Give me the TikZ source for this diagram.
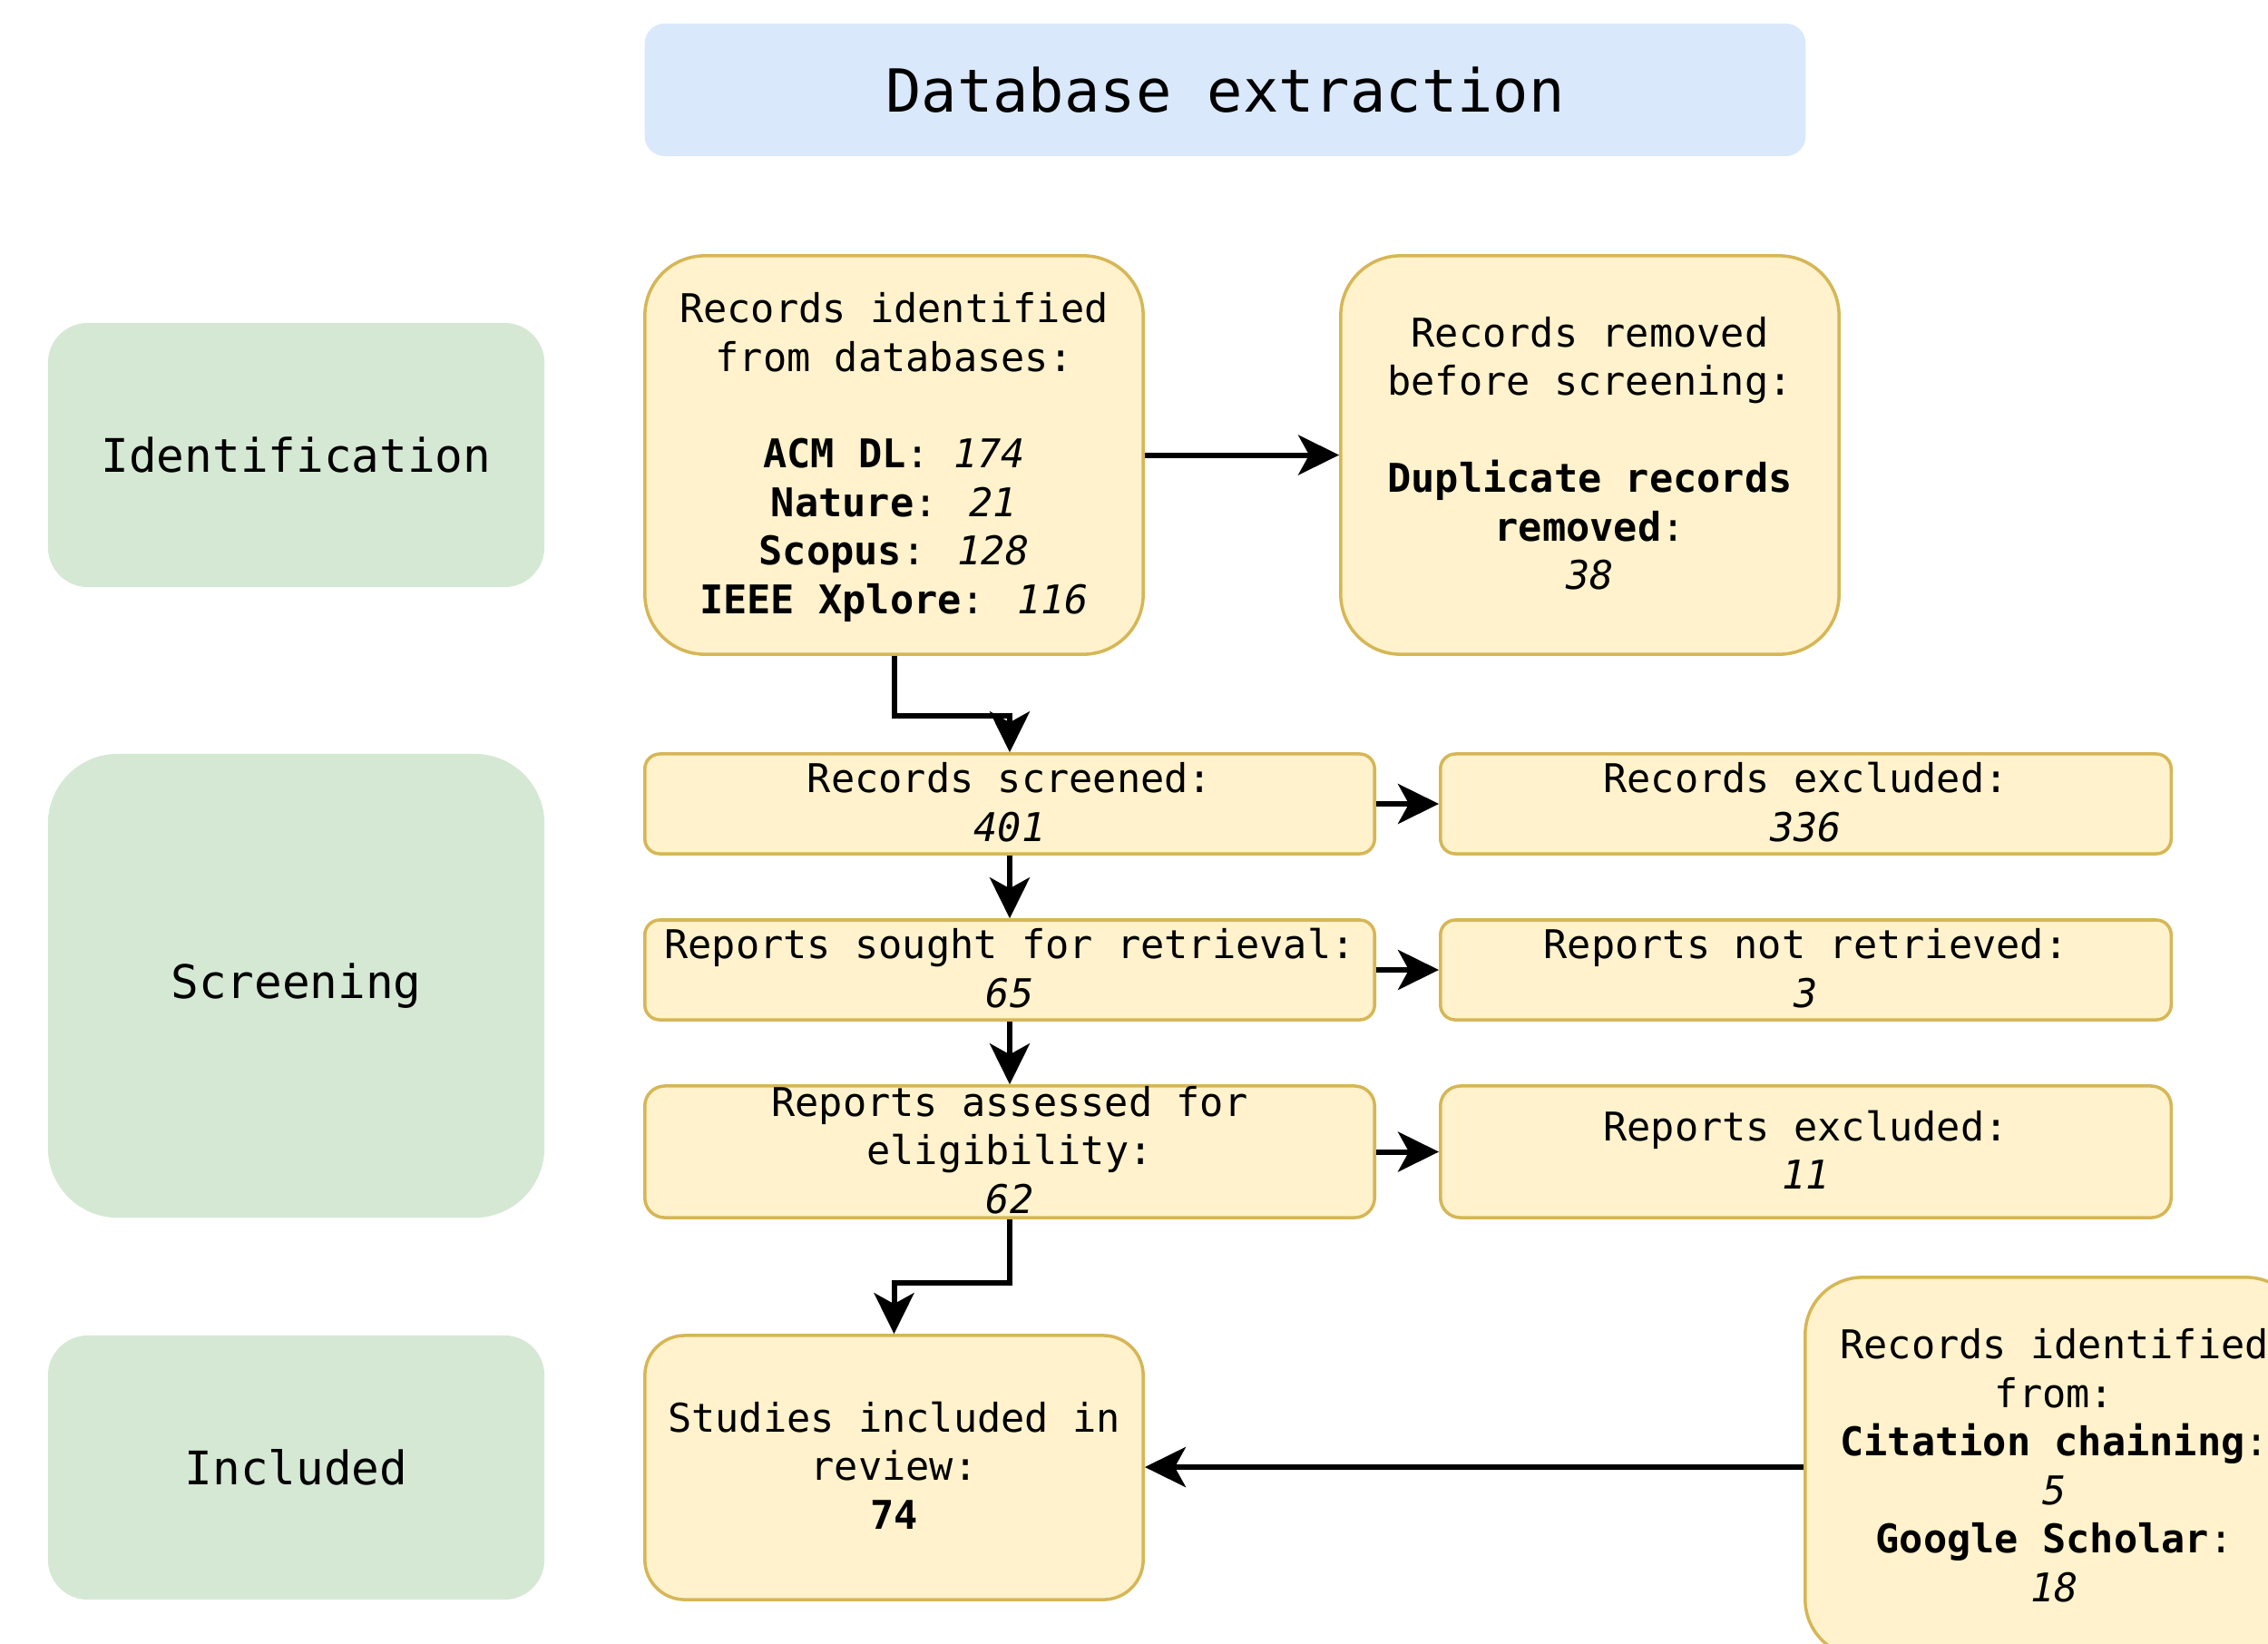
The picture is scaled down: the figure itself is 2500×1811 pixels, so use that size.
\documentclass[tikz,border=0pt]{standalone}
\usepackage{fontspec}
\setmainfont{DejaVu Sans Mono}
\usetikzlibrary{arrows.meta}
\definecolor{yfill}{HTML}{FFF2CC}
\definecolor{ydraw}{HTML}{D6B656}
\definecolor{gfill}{HTML}{D5E8D4}
\definecolor{bfill}{HTML}{DAE8FC}
\newcommand\mys{\rule[-0.23\baselineskip]{0pt}{\baselineskip}}
\newcommand\bodyfont{\fontsize{12.4pt}{15.2pt}\selectfont}
\begin{document}
\begin{tikzpicture}[x=0.01cm,y=-0.01cm,
  ybox/.style={draw=ydraw, fill=yfill, line width=1pt, align=center, inner sep=0pt, font=\bodyfont},
  gbox/.style={fill=gfill, align=center, inner sep=0pt, font=\fontsize{14.5pt}{17.4pt}\selectfont},
  arr/.style={line width=1.7pt, -{Stealth[length=0.45cm,width=0.44cm,inset=0.12cm]}}]
\useasboundingbox (0,0) rectangle (2500,1811);
\clip (0,0) rectangle (2500,1811);

% title
\node[fill=bfill, rounded corners=0.22cm, minimum width=12.79cm, minimum height=1.46cm,
      inner sep=0pt, font=\fontsize{18.6pt}{22pt}\selectfont] (title) at (1350.5,99) {Database extraction};

% phase labels
\node[gbox, rounded corners=0.44cm, minimum width=5.47cm, minimum height=2.91cm] (ident) at (326.5,501.5) {Identification};
\node[gbox, rounded corners=0.77cm, minimum width=5.47cm, minimum height=5.11cm] (screen) at (326.5,1086.5) {Screening};
\node[gbox, rounded corners=0.44cm, minimum width=5.47cm, minimum height=2.91cm] (incl) at (326.5,1617.5) {Included};

% identification
\node[ybox, rounded corners=0.66cm, minimum width=5.49cm, minimum height=4.39cm] (ri) at (985.5,501.5)
  {\mys Records identified\\ \mys from databases:\\ \mys\\
   \mys\textbf{ACM DL}: \textit{174}\\ \mys\textbf{Nature}: \textit{21}\\
   \mys\textbf{Scopus}: \textit{128}\\ \mys\textbf{IEEE Xplore}: \textit{116}};
\node[ybox, rounded corners=0.66cm, minimum width=5.49cm, minimum height=4.39cm] (rr) at (1752.5,501.5)
  {\mys Records removed\\ \mys before screening:\\ \mys\\
   \mys\textbf{Duplicate records}\\ \mys\textbf{removed}:\\ \mys\textit{38}};

% screening
\node[ybox, rounded corners=0.165cm, minimum width=8.04cm, minimum height=1.10cm] (scr) at (1113,886)
  {\mys Records screened:\\ \mys\textit{401}};
\node[ybox, rounded corners=0.165cm, minimum width=8.05cm, minimum height=1.10cm] (exc) at (1990.5,886)
  {\mys Records excluded:\\ \mys\textit{336}};
\node[ybox, rounded corners=0.165cm, minimum width=8.04cm, minimum height=1.10cm] (sought) at (1113,1069)
  {\mys Reports sought for retrieval:\\ \mys\textit{65}};
\node[ybox, rounded corners=0.165cm, minimum width=8.05cm, minimum height=1.10cm] (nret) at (1990.5,1069)
  {\mys Reports not retrieved:\\ \mys\textit{3}};
\node[ybox, rounded corners=0.22cm, minimum width=8.04cm, minimum height=1.45cm] (ass) at (1113,1269.5)
  {\rule{0pt}{9.4pt}Reports assessed for\\ \mys eligibility:\\ \rule[-1.2pt]{0pt}{1.2pt}\textit{62}};
\node[ybox, rounded corners=0.22cm, minimum width=8.05cm, minimum height=1.45cm] (rexc) at (1990.5,1269.5)
  {\mys Reports excluded:\\ \mys\textit{11}};

% included
\node[ybox, rounded corners=0.44cm, minimum width=5.49cm, minimum height=2.91cm] (stud) at (985.5,1617.5)
  {\mys Studies included in\\ \mys review:\\ \mys\textbf{74}};
\node[ybox, rounded corners=0.63cm, minimum width=5.49cm, minimum height=4.18cm] (cit) at (2264.5,1617)
  {\mys Records identified\\ \mys from:\\ \mys\textbf{Citation chaining}:\\ \mys\textit{5}\\
   \mys\textbf{Google Scholar}:\\ \mys\textit{18}};

% connectors
\coordinate (e1) at (985.5,789);
\coordinate (e2) at (1113,1414);
\draw[arr] (ri) -- (rr);
\draw[arr] (ri.south) -- (e1) -| (scr.north);
\draw[arr] (scr) -- (sought);
\draw[arr] (sought) -- (ass);
\draw[arr] (scr) -- (exc);
\draw[arr] (sought) -- (nret);
\draw[arr] (ass) -- (rexc);
\draw[arr] (ass.south) -- (e2) -| (stud.north);
\draw[arr] (cit.west) -- (cit.west -| stud.east);
\end{tikzpicture}
\end{document}
